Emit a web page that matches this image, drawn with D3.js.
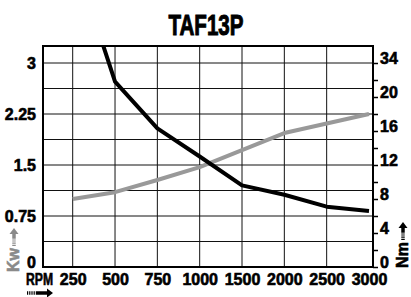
<!DOCTYPE html>
<html>
<head>
<meta charset="utf-8">
<script src="https://cdn.jsdelivr.net/npm/d3@7"></script>
<style>
  body { margin: 0; background: #ffffff; }
  text { font-family: "Liberation Sans Narrow", "Liberation Sans", Arial, sans-serif; font-weight: bold; }
</style>
</head>
<body>
<div id="chart"></div>
<script>
// Chart data.
var rpmLabels = ["250", "500", "750", "1000", "1500", "2000", "2500", "3000"];
var torqueNm = [37, 21.8, 16.3, 13.0, 9.6, 8.5, 7.1, 6.6];
var powerKw = [1.0, 1.1, 1.28, 1.47, 1.72, 1.97, 2.11, 2.25];
var kwTicks = [0, 0.75, 1.5, 2.25, 3];
var kwGrid = [0.375, 0.75, 1.125, 1.5, 1.875, 2.25, 2.625, 3];
var nmTicks = [0, 2, 4, 6, 8, 10, 12, 14, 16, 18, 20, 22, 24];
var nmLabels = {0: "0", 4: "4", 8: "8", 12: "12", 16: "16", 20: "20", 24: "34"};
var title = "TAF13P";

var width = 411;
var height = 297;

// 1. Plot frame and scales.
var pLeft = 43, pRight = 373, pTop = 46, pBottom = 267;
var xScale = d3.scalePoint().domain(rpmLabels).range([72.7, 369]);
var yKw = d3.scaleLinear().domain([0, 3]).range([pBottom, 63]);
var yNm = d3.scaleLinear().domain([0, 24]).range([pBottom, 63]);

var svg = d3.select("#chart").append("svg")
  .attr("width", width)
  .attr("height", height);

svg.append("clipPath").attr("id", "plotClip")
  .append("rect")
  .attr("x", pLeft).attr("y", pTop)
  .attr("width", pRight - pLeft).attr("height", pBottom - pTop);

// 2. Grid lines.
svg.append("g").selectAll("line").data(kwGrid)
  .enter().append("line")
  .attr("x1", pLeft).attr("x2", pRight)
  .attr("y1", function (d) { return yKw(d); })
  .attr("y2", function (d) { return yKw(d); })
  .attr("stroke", "#111").attr("stroke-width", 1);

svg.append("g").selectAll("line").data(rpmLabels.slice(0, 7))
  .enter().append("line")
  .attr("x1", function (d) { return xScale(d); })
  .attr("x2", function (d) { return xScale(d); })
  .attr("y1", pTop).attr("y2", pBottom)
  .attr("stroke", "#111").attr("stroke-width", 1);

// 3. Lines.
var plot = svg.append("g").attr("clip-path", "url(#plotClip)");

var powerLine = d3.line()
  .x(function (d, i) { return xScale(rpmLabels[i]); })
  .y(function (d) { return yKw(d); });
var torqueLine = d3.line()
  .x(function (d, i) { return xScale(rpmLabels[i]); })
  .y(function (d) { return yNm(d); });

plot.append("path").datum(powerKw)
  .attr("d", powerLine)
  .attr("fill", "none")
  .attr("stroke", "#999999")
  .attr("stroke-width", 4)
  .attr("stroke-linejoin", "round");

plot.append("path").datum(torqueNm)
  .attr("d", torqueLine)
  .attr("fill", "none")
  .attr("stroke", "#000000")
  .attr("stroke-width", 4)
  .attr("stroke-linejoin", "round");

// 4. Frame.
svg.append("rect")
  .attr("x", pLeft).attr("y", pTop)
  .attr("width", pRight - pLeft).attr("height", pBottom - pTop)
  .attr("fill", "none")
  .attr("stroke", "#000").attr("stroke-width", 2);

// 5. Axes.
function heavy(sel) {
  sel.attr("font-size", 16).attr("fill", "#000")
    .attr("font-family", null)
    .attr("stroke", "#000").attr("stroke-width", 0.6);
}

var kwAxis = d3.axisLeft(yKw).tickValues(kwTicks).tickSize(0).tickPadding(7)
  .tickFormat(function (d) { return String(d); });
var kwG = svg.append("g")
  .attr("transform", "translate(" + pLeft + ",0)")
  .call(kwAxis);
kwG.select(".domain").remove();
kwG.selectAll("text").call(heavy)
  .attr("dy", function (d) { return d == 0 ? "0em" : "0.35em"; });

var nmAxis = d3.axisRight(yNm).tickValues(nmTicks).tickSize(5).tickPadding(2)
  .tickFormat(function (d) { return nmLabels[d] || ""; });
var nmG = svg.append("g")
  .attr("transform", "translate(" + pRight + ",0)")
  .call(nmAxis);
nmG.select(".domain").remove();
nmG.selectAll("line").attr("stroke", "#000").attr("stroke-width", 1.5);
nmG.selectAll("text").call(heavy)
  .attr("dy", "0.05em");

var xAxis = d3.axisBottom(xScale).tickSize(0).tickPadding(7);
var xG = svg.append("g")
  .attr("transform", "translate(0," + pBottom + ")")
  .call(xAxis);
xG.select(".domain").remove();
xG.selectAll("text").call(heavy);

// 6. Axis names and arrows.
svg.append("text")
  .attr("x", 26).attr("y", 285)
  .attr("font-size", 16)
  .attr("stroke", "#000").attr("stroke-width", 0.6)
  .attr("textLength", 27).attr("lengthAdjust", "spacingAndGlyphs")
  .text("RPM");

svg.append("text")
  .attr("transform", "translate(19,260)rotate(-90)")
  .attr("text-anchor", "middle")
  .attr("font-size", 16)
  .attr("fill", "#8a8a8a")
  .attr("stroke", "#8a8a8a").attr("stroke-width", 0.6)
  .text("Kw");

svg.append("text")
  .attr("transform", "translate(408,255)rotate(-90)")
  .attr("text-anchor", "middle")
  .attr("font-size", 16)
  .attr("fill", "#000")
  .attr("stroke", "#000").attr("stroke-width", 0.6)
  .text("Nm");

function upArrow(cx, y0, y1, color) {
  var g = svg.append("g");
  g.append("line")
    .attr("x1", cx).attr("x2", cx)
    .attr("y1", y1).attr("y2", y1 - 8)
    .attr("stroke", color).attr("stroke-width", 3.5)
    .attr("stroke-dasharray", "1.2,1");
  g.append("line")
    .attr("x1", cx).attr("x2", cx)
    .attr("y1", y1 - 8).attr("y2", y0 + 5)
    .attr("stroke", color).attr("stroke-width", 3.5);
  g.append("path")
    .attr("d", "M" + (cx - 4.5) + "," + (y0 + 6) + "L" + cx + "," + y0 + "L" + (cx + 4.5) + "," + (y0 + 6) + "Z")
    .attr("fill", color);
}
upArrow(14, 228, 246, "#8a8a8a");
upArrow(403, 222, 240, "#000");

var rg = svg.append("g");
rg.append("line")
  .attr("x1", 27).attr("x2", 37)
  .attr("y1", 293).attr("y2", 293)
  .attr("stroke", "#000").attr("stroke-width", 3.5)
  .attr("stroke-dasharray", "1.2,1");
rg.append("line")
  .attr("x1", 37).attr("x2", 47)
  .attr("y1", 293).attr("y2", 293)
  .attr("stroke", "#000").attr("stroke-width", 3.5);
rg.append("path")
  .attr("d", "M47,288.5L53,293L47,297.5Z")
  .attr("fill", "#000");

// 7. Title.
svg.append("text")
  .attr("x", 206).attr("y", 35)
  .attr("text-anchor", "middle")
  .attr("font-size", 30)
  .attr("stroke", "#000").attr("stroke-width", 1)
  .attr("textLength", 75).attr("lengthAdjust", "spacingAndGlyphs")
  .text(title);
</script>
</body>
</html>
